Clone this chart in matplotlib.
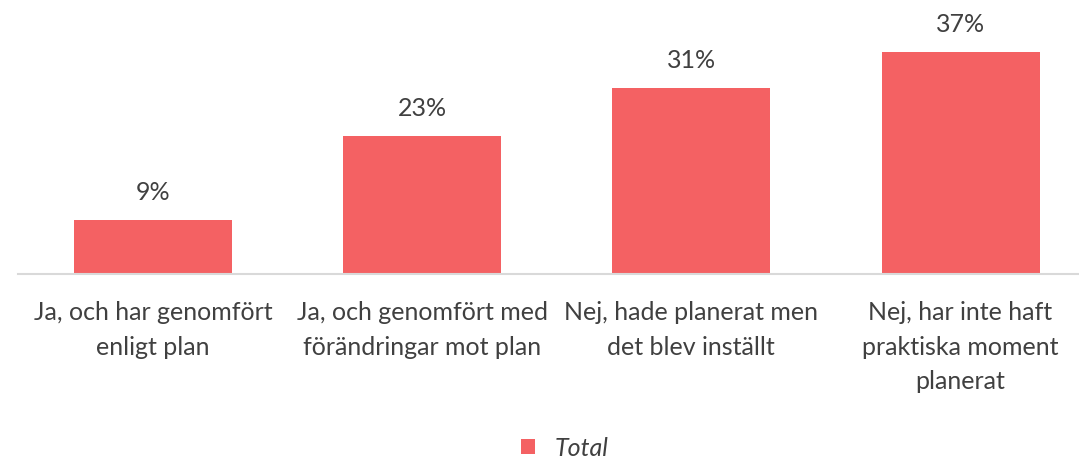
import matplotlib
matplotlib.use("Agg")
import matplotlib.pyplot as plt

categories = ["Ja, och har genomfört\nenligt plan",
              "Ja, och genomfört med\nförändringar mot plan",
              "Nej, hade planerat men\ndet blev inställt",
              "Nej, har inte haft\npraktiska moment\nplanerat"]
values = [9, 23, 31, 37]
series_name = "Total"

W, H = 1079, 460
fig = plt.figure(figsize=(W/100, H/100), dpi=100)
ax = fig.add_axes([18/W, 1-274.5/H, (1079-18)/W, 240/H])
color = "#F46163"
text_color = "#404040"
font = "Lato"

x = list(range(len(categories)))
bars = ax.bar(x, values, width=0.587, color=color, label=series_name, zorder=2)
ax.set_xlim(-0.5015, 3.44)
ax.set_ylim(0, 40)
for s in ["top", "right", "left"]:
    ax.spines[s].set_visible(False)
ax.spines["bottom"].set_color("#D9D9D9")
ax.spines["bottom"].set_linewidth(1.5)
ax.set_yticks([])
ax.set_xticks(x)
ax.set_xticklabels(categories, fontsize=18, color=text_color, family=font,
                   linespacing=1.62, va="top")
ax.tick_params(axis="x", length=0, pad=19)
for xi, v in zip(x, values):
    ax.annotate(f"{v}%", (xi, v), xytext=(0, 12), textcoords="offset points",
                ha="center", va="bottom", fontsize=18, color=text_color, family=font)

leg = fig.legend(handles=[bars], labels=[series_name], loc="center",
                 bbox_to_anchor=(565/W, 1-449/H), frameon=False,
                 handlelength=0.55, handleheight=0.55, handletextpad=0.8,
                 borderpad=0.1,
                 prop={"family": font, "style": "italic", "size": 18})
for t in leg.get_texts():
    t.set_color(text_color)

fig.savefig("out.png", dpi=100)
